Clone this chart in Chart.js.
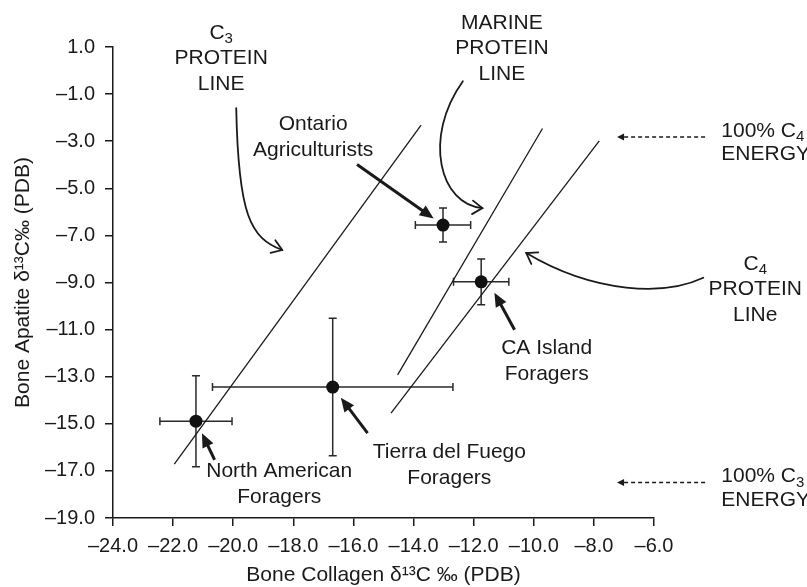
<!DOCTYPE html>
<html>
<head>
<meta charset="utf-8">
<script src="https://cdn.jsdelivr.net/npm/chart.js@4.4.1/dist/chart.umd.min.js"></script>
<style>
  body { margin: 0; background: #fff; }
  canvas { display: block; }
</style>
</head>
<body>
<canvas id="isoChart" width="807" height="587"></canvas>
<script>
// tick labels
const xTicks = [-24, -22, -20, -18, -16, -14, -12, -10, -8, -6];
const yTicks = [1, -1, -3, -5, -7, -9, -11, -13, -15, -17, -19];

// groups: mean collagen / apatite values with error ranges
const groups = ['North American Foragers', 'Tierra del Fuego Foragers', 'Ontario Agriculturists', 'CA Island Foragers'];
const collagen = [-21.24, -16.69, -13.02, -11.75];
const apatite = [-14.89, -13.44, -6.56, -8.97];
const collagenErr = [1.2, 4.0, 0.92, 0.92];
const apatiteErr = [1.93, 2.92, 0.72, 0.97];

// protein lines (end points)
const c3LineX = [-21.96, -13.75];
const c3LineY = [-16.71, -2.32];
const marineLineX = [-14.53, -9.71];
const marineLineY = [-12.92, -2.46];
const c4LineX = [-14.75, -7.82];
const c4LineY = [-14.55, -2.99];

// annotation texts, placed in data units ("_" = subscript next char)
const notes = [
    { x: -20.40, y: 1.60, lines: ['C_3', 'PROTEIN', 'LINE'] },
    { x: -11.06, y: 2.02, lines: ['MARINE', 'PROTEIN', 'LINE'] },
    { x: -17.34, y: -2.28, lines: ['Ontario', 'Agriculturists'] },
    { x: -9.57, y: -11.79, lines: ['CA Island', 'Foragers'] },
    { x: -12.81, y: -16.22, lines: ['Tierra del Fuego', 'Foragers'] },
    { x: -18.47, y: -17.02, lines: ['North American', 'Foragers'] },
    { x: -3.76, y: -2.56, lines: ['100% C_4', 'ENERGY'], align: 'left' },
    { x: -3.76, y: -17.24, lines: ['100% C_3', 'ENERGY'], align: 'left' },
    { x: -2.63, y: -8.22, lines: ['C_4', 'PROTEIN', 'LINe'] }
];

// curved pointers (bezier control points, data units)
const curves = [
    [[-19.90, -1.60], [-19.83, -6.14], [-19.43, -7.11], [-18.37, -7.62]],
    [[-12.36, -0.45], [-13.71, -2.87], [-13.11, -5.71], [-11.71, -5.84]],
    [[-4.36, -8.80], [-5.63, -9.57], [-7.96, -9.49], [-10.25, -7.75]]
];
// straight pointers to the groups
const pointers = [
    [[-15.88, -3.99], [-13.33, -6.28]],
    [[-10.64, -11.01], [-11.31, -9.43]],
    [[-15.53, -15.40], [-16.42, -13.89]],
    [[-20.62, -16.53], [-21.04, -15.40]]
];
// dashed energy pointers
const energyPointers = [
    [[-4.30, -2.82], [-7.23, -2.82]],
    [[-4.30, -17.49], [-7.23, -17.49]]
];

const FONT = '"Liberation Sans", Arial, Helvetica, sans-serif';
const INK = '#1a1a1a';

function fmt(v) {
    return v.toFixed(1).replace('-', '\u2013');
}

// text with subscripts
function richLine(ctx, str, x, y, align) {
    const parts = [];
    for (let i = 0; i < str.length; i++) {
        if (str[i] === '_') {
            parts.push({ t: str[i + 1], sub: true });
            i++;
        } else if (parts.length && !parts[parts.length - 1].sub) {
            parts[parts.length - 1].t += str[i];
        } else {
            parts.push({ t: str[i], sub: false });
        }
    }
    let total = 0;
    parts.forEach(p => {
        ctx.font = (p.sub ? '15px ' : '21px ') + FONT;
        p.w = ctx.measureText(p.t).width;
        total += p.w;
    });
    let cx = align === 'left' ? x : x - total / 2;
    ctx.textAlign = 'left';
    ctx.textBaseline = 'middle';
    parts.forEach(p => {
        ctx.font = (p.sub ? '15px ' : '21px ') + FONT;
        ctx.fillText(p.t, cx, p.sub ? y + 6 : y);
        cx += p.w;
    });
}

function openHead(ctx, tip, dir, len) {
    const a = Math.atan2(dir[1], dir[0]);
    ctx.beginPath();
    ctx.moveTo(tip[0] - len * Math.cos(a - 0.6), tip[1] - len * Math.sin(a - 0.6));
    ctx.lineTo(tip[0], tip[1]);
    ctx.lineTo(tip[0] - len * Math.cos(a + 0.6), tip[1] - len * Math.sin(a + 0.6));
    ctx.stroke();
}

function filledHead(ctx, tip, dir, len, half) {
    const a = Math.atan2(dir[1], dir[0]);
    const bx = tip[0] - len * Math.cos(a), by = tip[1] - len * Math.sin(a);
    ctx.beginPath();
    ctx.moveTo(tip[0], tip[1]);
    ctx.lineTo(bx + half * Math.sin(a), by - half * Math.cos(a));
    ctx.lineTo(bx - half * Math.sin(a), by + half * Math.cos(a));
    ctx.closePath();
    ctx.fill();
}

const annotate = {
    id: 'annotate',
    beforeDatasetsDraw(chart) {
        // error bars
        const { ctx, scales: { x, y } } = chart;
        ctx.save();
        ctx.strokeStyle = '#2a2a2a';
        ctx.lineWidth = 1.5;
        const cap = 4;
        collagen.forEach((cx, i) => {
            const px = x.getPixelForValue(cx), py = y.getPixelForValue(apatite[i]);
            const x1 = x.getPixelForValue(cx - collagenErr[i]), x2 = x.getPixelForValue(cx + collagenErr[i]);
            const y1 = y.getPixelForValue(apatite[i] + apatiteErr[i]), y2 = y.getPixelForValue(apatite[i] - apatiteErr[i]);
            ctx.beginPath();
            ctx.moveTo(x1, py); ctx.lineTo(x2, py);
            ctx.moveTo(x1, py - cap); ctx.lineTo(x1, py + cap);
            ctx.moveTo(x2, py - cap); ctx.lineTo(x2, py + cap);
            ctx.moveTo(px, y1); ctx.lineTo(px, y2);
            ctx.moveTo(px - cap, y1); ctx.lineTo(px + cap, y1);
            ctx.moveTo(px - cap, y2); ctx.lineTo(px + cap, y2);
            ctx.stroke();
        });
        ctx.restore();
    },
    afterDraw(chart) {
        const { ctx, scales: { x, y } } = chart;
        const P = d => [x.getPixelForValue(d[0]), y.getPixelForValue(d[1])];
        ctx.save();
        ctx.fillStyle = INK;
        ctx.strokeStyle = INK;

        notes.forEach(n => {
            const [px, py] = P([n.x, n.y]);
            const gap = n.align === 'left' ? 23.5 : 25.5;
            n.lines.forEach((line, k) => richLine(ctx, line, px, py + k * gap, n.align));
        });

        // curved pointers
        ctx.lineWidth = 1.8;
        ctx.lineCap = 'round';
        curves.forEach(c => {
            const p = c.map(P);
            ctx.beginPath();
            ctx.moveTo(p[0][0], p[0][1]);
            ctx.bezierCurveTo(p[1][0], p[1][1], p[2][0], p[2][1], p[3][0], p[3][1]);
            ctx.stroke();
            openHead(ctx, p[3], [p[3][0] - p[2][0], p[3][1] - p[2][1]], 12);
        });

        // straight pointers
        ctx.lineWidth = 3;
        ctx.lineCap = 'butt';
        pointers.forEach(s => {
            const a = P(s[0]), b = P(s[1]);
            const dx = b[0] - a[0], dy = b[1] - a[1], L = Math.hypot(dx, dy);
            ctx.beginPath();
            ctx.moveTo(a[0], a[1]);
            ctx.lineTo(b[0] - dx / L * 10, b[1] - dy / L * 10);
            ctx.stroke();
            filledHead(ctx, b, [dx, dy], 14, 6);
        });

        // dashed energy pointers
        ctx.lineWidth = 1.4;
        ctx.setLineDash([4, 3]);
        energyPointers.forEach(s => {
            const a = P(s[0]), b = P(s[1]);
            ctx.beginPath();
            ctx.moveTo(a[0], a[1]);
            ctx.lineTo(b[0] + 6, b[1]);
            ctx.stroke();
        });
        ctx.setLineDash([]);
        energyPointers.forEach(s => {
            const a = P(s[0]), b = P(s[1]);
            filledHead(ctx, b, [b[0] - a[0], b[1] - a[1]], 7, 3.5);
        });
        ctx.restore();
    }
};

function proteinLine(xs, ys) {
    return {
        data: xs.map((v, i) => ({ x: v, y: ys[i] })),
        showLine: true,
        borderColor: INK,
        borderWidth: 1.3,
        pointRadius: 0,
        fill: false
    };
}

const ctx = document.getElementById('isoChart').getContext('2d');

const isoChart = new Chart(ctx, {
    type: 'scatter',
    data: {
        datasets: [
            proteinLine(c3LineX, c3LineY),
            proteinLine(marineLineX, marineLineY),
            proteinLine(c4LineX, c4LineY),
            {
                label: 'Groups',
                data: collagen.map((v, i) => ({ x: v, y: apatite[i], name: groups[i] })),
                pointRadius: 6.5,
                backgroundColor: '#111',
                borderColor: '#111',
                borderWidth: 0
            }
        ]
    },
    options: {
        responsive: false,
        animation: false,
        layout: { padding: { top: 47, right: 153, left: 0, bottom: 0 } },
        plugins: {
            legend: { display: false },
            tooltip: { enabled: false }
        },
        scales: {
            x: {
                type: 'linear',
                min: -24,
                max: -6,
                afterBuildTicks: s => { s.ticks = xTicks.map(v => ({ value: v })); },
                afterFit: s => { s.height = 69; },
                grid: { drawOnChartArea: false, drawTicks: true, tickLength: 8, color: INK, lineWidth: 1.5 },
                border: { display: true, color: INK, width: 1.5 },
                ticks: {
                    color: INK,
                    font: { family: FONT, size: 20 },
                    padding: 8,
                    maxRotation: 0,
                    autoSkip: false,
                    callback: v => fmt(v)
                },
                title: {
                    display: true,
                    text: 'Bone Collagen \u03b4\u00b9\u00b3C \u2030 (PDB)',
                    color: INK,
                    font: { family: FONT, size: 21, lineHeight: 1 },
                    padding: { top: 0, bottom: 1 }
                }
            },
            y: {
                type: 'linear',
                min: -19,
                max: 1,
                afterBuildTicks: s => { s.ticks = yTicks.map(v => ({ value: v })); },
                afterFit: s => { s.width = 113; },
                grid: { drawOnChartArea: false, drawTicks: true, tickLength: 8, color: INK, lineWidth: 1.5 },
                border: { display: true, color: INK, width: 1.5 },
                ticks: {
                    color: INK,
                    font: { family: FONT, size: 20 },
                    padding: 10,
                    autoSkip: false,
                    callback: v => fmt(v)
                },
                title: {
                    display: true,
                    text: 'Bone Apatite \u03b4\u00b9\u00b3C\u2030 (PDB)',
                    color: INK,
                    font: { family: FONT, size: 21, lineHeight: 1.2 },
                    padding: { top: 11, bottom: 0 }
                }
            }
        }
    },
    plugins: [annotate]
});
</script>
</body>
</html>
